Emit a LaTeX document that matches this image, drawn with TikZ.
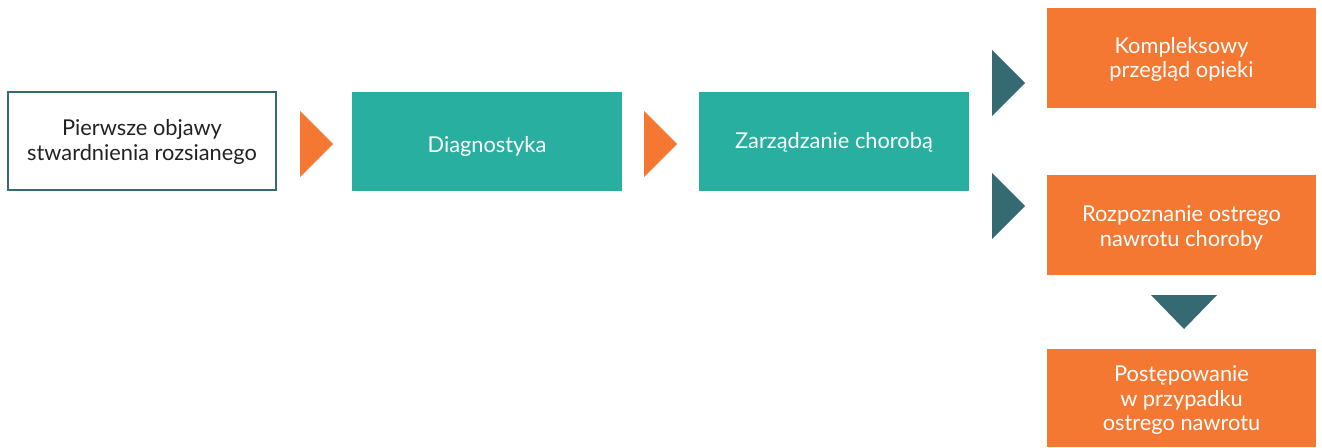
\documentclass[tikz,border=0pt]{standalone}
\usepackage{fontspec}
\setmainfont{Lato}
\definecolor{tealbox}{HTML}{29AF9F}
\definecolor{orangebox}{HTML}{F47832}
\definecolor{darkteal}{HTML}{366A73}
\definecolor{textgray}{HTML}{222222}
% invisible struts that set the height of a first line and the depth of a last line
\newcommand\nodeTop[1]{\rule{0pt}{#1}}
\newcommand\nodeBottom[1]{\rule[-#1]{0pt}{#1}}
\begin{document}
\begin{tikzpicture}[x=1pt,y=-1pt,
  box/.style={rectangle, inner sep=0pt, minimum width=270pt, minimum height=99pt,
    align=center, font=\fontsize{21.8}{25}\selectfont, text=white},
  outlinebox/.style={box, draw=darkteal, line width=2pt, fill=white,
    minimum width=268pt, minimum height=98pt, text=textgray},
  tealstep/.style={box, fill=tealbox},
  orangestep/.style={box, fill=orangebox, minimum width=269pt, minimum height=100pt},
  orangetri/.style={fill=orangebox},
  darktri/.style={fill=darkteal}]
\useasboundingbox (0,0) rectangle (1322,447);

% main chain
\node[outlinebox] (start) at (142,141)
  {\nodeTop{17.6pt}Pierwsze objawy\\stwardnienia rozsianego\nodeBottom{4.6pt}};
\node[tealstep, text height=22.4pt, text depth=0pt] (diag) at (487,141.5) {Diagnostyka};
\node[tealstep, text height=16pt, text depth=2.4pt] (manage) at (834,141.5) {Zarządzanie chorobą};

% branches
\node[orangestep, font=\fontsize{21.8}{24}\selectfont] (review) at (1181.5,58)
  {\nodeTop{19pt}Kompleksowy\\przegląd opieki\nodeBottom{4.4pt}};
\node[orangestep] (relapse) at (1181.5,225)
  {\nodeTop{23pt}Rozpoznanie ostrego\\nawrotu choroby\nodeBottom{4.6pt}};
\node[orangestep, minimum height=98pt, font=\fontsize{21.8}{24.5}\selectfont] (treat) at (1181.5,398)
  {\nodeTop{21pt}Postępowanie\\w przypadku\\ostrego nawrotu\nodeBottom{4.6pt}};

% arrow heads between the steps
\fill[orangetri] (300,111) -- (333,144) -- (300,177) -- cycle;
\fill[orangetri] (644,111) -- (677,144) -- (644,177) -- cycle;
\fill[darktri] (992,50) -- (1025,83) -- (992,116) -- cycle;
\fill[darktri] (992,173) -- (1025,206) -- (992,239) -- cycle;
\fill[darktri] (1151,295) -- (1217,295) -- (1184,329) -- cycle;
\end{tikzpicture}
\end{document}
